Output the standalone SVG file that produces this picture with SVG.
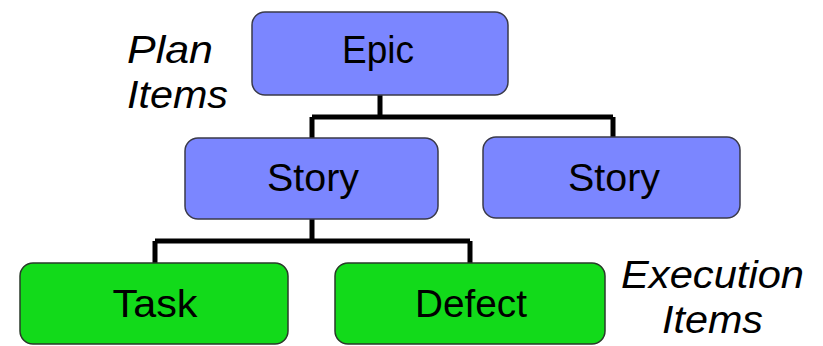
<svg xmlns="http://www.w3.org/2000/svg" width="823" height="346" viewBox="0 0 823 346">
<style>
.plan{fill:#7b86ff;stroke:#3a3a4a;stroke-width:1.5}
.exec{fill:#12da1a;stroke:#2a3a2a;stroke-width:1.5}
.lbl{font-family:"Liberation Sans",Arial,sans-serif;font-size:38px;fill:#000;text-anchor:middle}
.side{font-family:"Liberation Sans",Arial,sans-serif;font-size:39px;font-style:italic;fill:#000}
.conn{fill:none;stroke:#000;stroke-width:5}
</style>
<rect width="823" height="346" fill="#fff"/>
<g id="connectors">
<path class="conn" d="M380,95 V117 M312,117 H613 M312,117 V138 M613,117 V137"/>
<path class="conn" d="M312,219 V241 M155,241 H470 M155,241 V263 M470,241 V263"/>
</g>
<g id="epic"><rect class="plan" x="252" y="12" width="256" height="83" rx="13"/><text class="lbl" x="378" y="63" textLength="72" lengthAdjust="spacingAndGlyphs">Epic</text></g>
<g id="story1"><rect class="plan" x="185" y="138" width="253" height="81" rx="13"/><text class="lbl" x="313" y="191" textLength="92" lengthAdjust="spacingAndGlyphs">Story</text></g>
<g id="story2"><rect class="plan" x="483" y="137" width="257" height="81" rx="13"/><text class="lbl" x="614" y="191" textLength="92" lengthAdjust="spacingAndGlyphs">Story</text></g>
<g id="task"><rect class="exec" x="20" y="263" width="268" height="81" rx="13"/><text class="lbl" x="155" y="317" textLength="85" lengthAdjust="spacingAndGlyphs">Task</text></g>
<g id="defect"><rect class="exec" x="335" y="263" width="270" height="81" rx="13"/><text class="lbl" x="471" y="317" textLength="112" lengthAdjust="spacingAndGlyphs">Defect</text></g>
<g id="plan-items"><text class="side" x="127" y="63" textLength="86" lengthAdjust="spacingAndGlyphs">Plan</text><text class="side" x="127" y="108" textLength="101" lengthAdjust="spacingAndGlyphs">Items</text></g>
<g id="execution-items"><text class="side" x="621" y="288" textLength="183" lengthAdjust="spacingAndGlyphs">Execution</text><text class="side" x="662" y="333" textLength="101" lengthAdjust="spacingAndGlyphs">Items</text></g>
</svg>
